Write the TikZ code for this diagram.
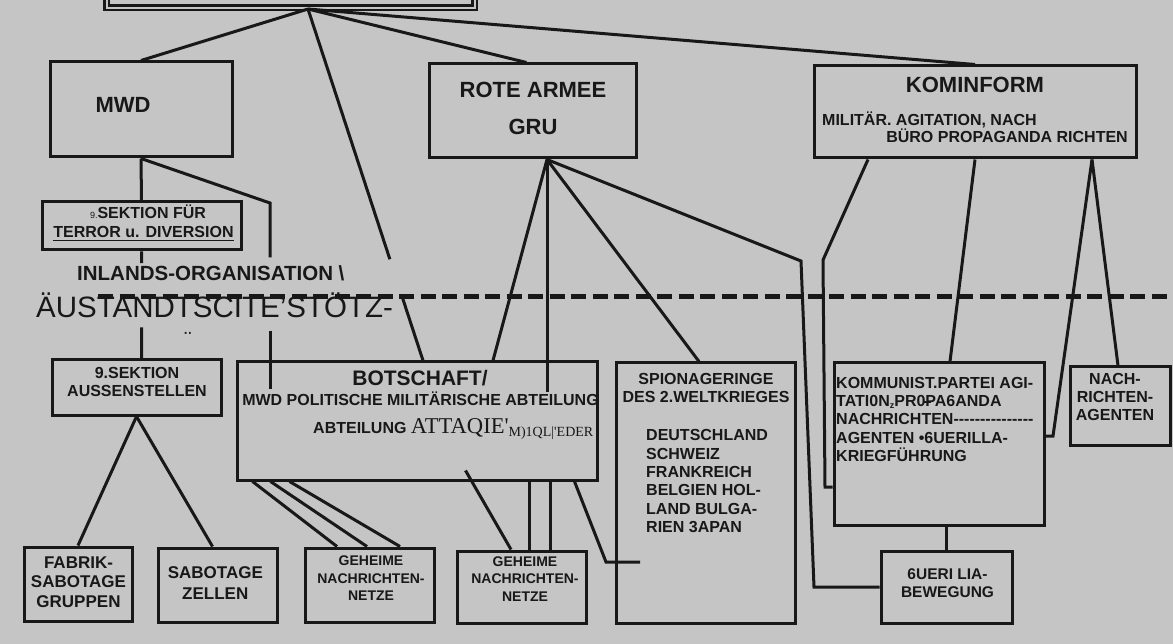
\documentclass[tikz,border=0pt]{standalone}
\usepackage{fontspec}
\setmainfont{Liberation Sans}
\newfontfamily\printserif{Liberation Serif}
\usetikzlibrary{calc}
\definecolor{paper}{RGB}{197,197,197}
\definecolor{ink}{RGB}{24,24,24}
\newcommand\fsz[2]{\fontsize{#1}{#2}\selectfont}
\newcommand\rublep{\makebox[0pt][l]{\hspace{-1.5pt}\rule[3.5pt]{7pt}{1.5pt}}P}
\newcommand\kpdashes{-\kern0pt-\kern0pt-\kern0pt-\kern0pt-\kern0pt-\kern0pt-\kern0pt-\kern0pt-\kern0pt-\kern0pt-\kern0pt-\kern0pt-\kern0pt-\kern0pt-}

\begin{document}
\begin{tikzpicture}[x=1pt, y=-1pt,
    box/.style={draw=ink, line width=3pt, inner sep=0pt},
    link/.style={draw=ink, line width=3pt},
    txt/.style={text=ink, inner sep=0pt, font=\bfseries\fsz{16}{18.4}},
    bigtxt/.style={txt, font=\bfseries\fsz{22}{26}}]

  \useasboundingbox (0,0) rectangle (1173,644);
  \fill[paper] (0,0) rectangle (1173,644);

  % boxes
  \node[box, double=paper, double distance=2pt, line width=2.5pt, minimum width=368pt, minimum height=67.75pt] (top) at (290.5,-26.1) {};
  \node[box, minimum width=182pt, minimum height=95pt] (mwd) at (141,109.5) {};
  \node[box, minimum width=207pt, minimum height=94pt] (rote) at (532.5,111) {};
  \node[box, minimum width=322pt, minimum height=92pt] (kom) at (975,112) {};
  \node[box, minimum width=199pt, minimum height=48pt] (sekt) at (141.5,226) {};
  \node[box, minimum width=169pt, minimum height=55pt] (auss) at (136.5,387.5) {};
  \node[box, minimum width=360pt, minimum height=118pt] (bot) at (417,421) {};
  \node[box, minimum width=179pt, minimum height=260pt] (spion) at (705.5,493) {};
  \node[box, minimum width=210pt, minimum height=162pt] (kp) at (939,444) {};
  \node[box, minimum width=100pt, minimum height=78pt] (nach) at (1120,406) {};
  \node[box, minimum width=108pt, minimum height=74pt] (fab) at (78,584) {};
  \node[box, minimum width=119pt, minimum height=74pt] (sab) at (217.5,585) {};
  \node[box, minimum width=129pt, minimum height=74pt] (geh1) at (369.5,585) {};
  \node[box, minimum width=129pt, minimum height=72pt] (geh2) at (521.5,587) {};
  \node[box, minimum width=131pt, minimum height=72pt] (gue) at (946.5,587) {};

  % connectors
  \coordinate (topfan) at ([xshift=17.5pt]top.south);
  \coordinate (grufan) at ([xshift=14.5pt]rote.south);
  \coordinate (komfootL) at ([xshift=-107pt]kom.south);
  \coordinate (komfootR) at ([xshift=117pt]kom.south);
  \coordinate (botin) at ([xshift=6pt]bot.north);

  \draw[link] (topfan) -- (mwd.north);
  \draw[link] (topfan) -- ($(topfan)!0.712!(botin)$);
  \draw[link] ($(topfan)!0.822!(botin)$) -- (botin);
  \draw[link] (topfan) -- ([xshift=-6pt]rote.north);
  \draw[link] (topfan) -- (kom.north);

  \draw[link] (mwd.south) -- (sekt.north);
  \draw[link] (sekt.south) -- ($(sekt.south)!0.109!(sekt.south |- auss.north)$);
  \draw[link] ($(sekt.south)!0.709!(sekt.south |- auss.north)$) -- (sekt.south |- auss.north);
  \coordinate (mwdknee) at (270,203);
  \draw[link] (mwd.south) -- (mwdknee) -- ($(mwdknee)!0.346!(mwdknee |- bot.north)$);
  \draw[link] ($(mwdknee)!0.811!(mwdknee |- bot.north)$) -- ($(mwdknee |- bot.north)+(0,28)$);

  \draw[link] (grufan) -- ([xshift=76pt]bot.north);
  \draw[link] (grufan) -- ($(grufan |- bot.north)+(0,31)$);
  \draw[link] (grufan) -- ([xshift=-6.5pt]spion.north);
  \coordinate (gueknee1) at (801,261);
  \coordinate (gueknee2) at (814,587);
  \draw[link] (grufan) -- (gueknee1) -- (gueknee2) -- (gue.west);

  \coordinate (kpknee1) at (823,260);
  \coordinate (kpknee2) at (825,487);
  \draw[link] (komfootL) -- (kpknee1) -- (kpknee2) -- (kpknee2 -| kp.west);
  \draw[link] (kom.south) -- ([xshift=11pt]kp.north);
  \draw[link] (komfootR) -- ([xshift=-2pt]nach.north);
  \coordinate (kpknee3) at (1053,436);
  \draw[link] (komfootR) -- (kpknee3) -- (kpknee3 -| kp.east);
  \draw[link] (kp.south -| gue.north) -- (gue.north);

  \draw[link] ([xshift=17pt]bot.south west) -- ([xshift=-32.5pt]geh1.north);
  \draw[link] ([xshift=35pt]bot.south west) -- ([xshift=-2.5pt]geh1.north);
  \draw[link] ([xshift=54pt]bot.south west) -- ([xshift=30.5pt]geh1.north);
  \draw[link] ([xshift=230pt, yshift=11pt]bot.south west) -- ([xshift=-10.5pt]geh2.north);
  \coordinate (geh2a) at ([xshift=7.5pt]geh2.north);
  \coordinate (geh2b) at ([xshift=28.5pt]geh2.north);
  \draw[link] (geh2a |- bot.south) -- (geh2a);
  \draw[link] (geh2b |- bot.south) -- (geh2b);
  \coordinate (spknee) at (606,562);
  \draw[link] ([xshift=-24pt]bot.south east) -- (spknee) -- ++(34,0);

  \draw[link] (auss.south) -- (fab.north);
  \draw[link] (auss.south) -- ([xshift=-5pt]sab.north);

  % border line
  \draw[ink, line width=5pt, dash pattern=on 15pt off 6.5pt] (98,297) -- (1173,297);

  % texts
  \node[bigtxt, anchor=base] (mwdlbl) at (123,113) {MWD};
  \node[bigtxt, anchor=base] (rotelbl) at (533,98) {ROTE ARMEE};
  \node[bigtxt, anchor=base] (grulbl) at (533,135) {GRU};
  \node[bigtxt, anchor=base] (komlbl) at (975,93) {KOMINFORM};
  \node[txt, anchor=base west] (komlbl2) at (822,126) {MILITÄR. AGITATION, NACH};
  \node[txt, anchor=base east] (komlbl3) at (1128,143) {BÜRO PROPAGANDA RICHTEN};
  \node[txt, anchor=base] (sektlbl) at (148,219) {{\mdseries\fsz{9}{9}9.}SEKTION FÜR};
  \node[txt, anchor=base] (sektlbl2) at (143.5,238) {TERROR u. DIVERSION};
  \draw[ink, line width=1.5pt] ([yshift=-2.5pt]sektlbl2.base west) -- ([yshift=-2.5pt]sektlbl2.base east);
  \node[txt, font=\bfseries\fsz{20.5}{24}, anchor=base west] (inland) at (77,281) {INLANDS-ORGANISATION \textbackslash};
  \node[txt, font=\fsz{29.5}{34}, anchor=base west] (ausland) at (36,318) {ÄUSTANDTSCITE'STÖTZ-};
  \node[txt, font=\fsz{22}{24}, anchor=base] (umlaut) at (188,348) {¨};
  \node[txt, align=center, anchor=north] (ausslbl) at (137,366.7) {9.SEKTION\\AUSSENSTELLEN};
  \node[txt, font=\bfseries\fsz{21}{24}, anchor=base] (botlbl) at (420,385) {BOTSCHAFT/};
  \node[txt, anchor=base] (botlbl2) at (420.5,405) {MWD POLITISCHE MILITÄRISCHE ABTEILUNG};
  \node[txt, anchor=base west] (botlbl3) at (313,433) {ABTEILUNG {\mdseries\printserif\fsz{22.6}{24}ATTAQIE'\raisebox{-3pt}{\fsz{14}{16}M)1QL|'EDER}}};
  \node[txt, align=center, anchor=north] (spionlbl) at (706,372.7) {SPIONAGERINGE\\DES 2.WELTKRIEGES};
  \node[txt, align=left, anchor=north west] (spionlist) at (646,429.3) {DEUTSCHLAND\\SCHWEIZ\\FRANKREICH\\BELGIEN HOL-\\LAND BULGA-\\RIEN 3APAN};
  \node[txt, align=left, anchor=north west] (kplbl) at (836,376.7) {KOMMUNIST.PARTEI AGI-\\TATI0N\raisebox{-2pt}{\fsz{9}{9}z}PR0\rublep A6ANDA\\NACHRICHTEN\kpdashes\\AGENTEN •6UERILLA-\\KRIEGFÜHRUNG};
  \node[txt, align=center, anchor=north] (nachlbl) at (1115,372.7) {NACH-\\RICHTEN-\\AGENTEN};
  \node[txt, font=\bfseries\fsz{17}{19.4}, align=center, anchor=north] (fablbl) at (78.5,556.7) {FABRIK-\\SABOTAGE\\GRUPPEN};
  \node[txt, font=\bfseries\fsz{17}{20.7}, align=center, anchor=north] (sablbl) at (215.3,566.7) {SABOTAGE\\ZELLEN};
  \node[txt, font=\bfseries\fsz{14}{17.2}, align=center, anchor=north] (geh1lbl) at (371,556) {GEHEIME\\NACHRICHTEN-\\NETZE};
  \node[txt, font=\bfseries\fsz{14}{17.2}, align=center, anchor=north] (geh2lbl) at (525,556.7) {GEHEIME\\NACHRICHTEN-\\NETZE};
  \node[txt, font=\bfseries\fsz{15.5}{18.3}, align=center, anchor=north] (guelbl) at (947.5,568.3) {6UERI LIA-\\BEWEGUNG};
\end{tikzpicture}
\end{document}
